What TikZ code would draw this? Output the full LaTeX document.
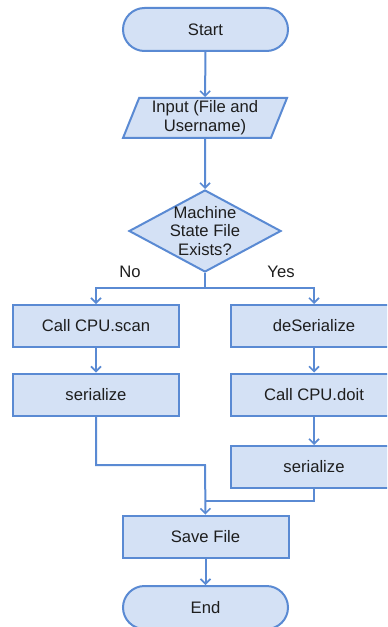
\documentclass[tikz,border=0pt]{standalone}
\usepackage{fontspec}
\setmainfont{Liberation Sans}
\usetikzlibrary{shapes.geometric,arrows.meta}
\definecolor{boxfill}{HTML}{D4E1F5}
\definecolor{boxline}{HTML}{5A8AD3}
\definecolor{ink}{HTML}{1E1E1E}
\begin{document}
\begin{tikzpicture}[x=1bp,y=-1bp,
    font=\fontsize{16.7}{19}\selectfont,
    every node/.style={text=ink},
    term/.style={rectangle,rounded corners=21.5bp,draw=boxline,fill=boxfill,line width=2bp,minimum width=165bp,minimum height=43bp},
    proc/.style={rectangle,draw=boxline,fill=boxfill,line width=2bp,minimum width=166bp,minimum height=42bp},
    io/.style={trapezium,trapezium left angle=70,trapezium right angle=110,trapezium stretches=true,draw=boxline,fill=boxfill,line width=2bp,minimum width=164bp,minimum height=40bp,align=center,inner sep=1bp},
    decide/.style={diamond,draw=boxline,fill=boxfill,line width=2bp,minimum width=152bp,minimum height=82bp,inner sep=0pt},
    link/.style={draw=boxline,line width=2bp,-{Straight Barb[length=5bp,width=10bp,line width=1.6bp]}},
    wire/.style={draw=boxline,line width=2bp}]
\clip (0,0) rectangle (387,627);
\node[term] (start) at (205.5,29.5) {Start};
\node[io] (input) at (205,118) {Input (File and\\Username)};
\node[decide,label={[align=center,font=\fontsize{16.7}{18.5}\selectfont]center:Machine\\State File\\Exists?}] (check) at (205,231) {};
\node (no) at (130,272) {No};
\node (yes) at (281,272) {Yes};
\node[proc] (scan) at (96,326) {Call CPU.scan};
\node[proc] (serleft) at (96,394.5) {serialize};
\node[proc] (deser) at (314,326) {deSerialize};
\node[proc] (doit) at (314,394.5) {Call CPU.doit};
\node[proc] (serright) at (314,467) {serialize};
\node[proc] (save) at (205.5,536.5) {Save File};
\node[term] (end) at (205.5,607.5) {End};
\coordinate (split) at (205,288);
\coordinate (merge) at (205,465);
\coordinate (join) at (205,501);
\draw[link] (start) -- (input);
\draw[link] (input) -- (check);
\draw[wire] (check.south) -- (split);
\draw[link] (split) -| (scan.north);
\draw[link] (split) -| (deser.north);
\draw[link] (scan) -- (serleft);
\draw[link] (deser) -- (doit);
\draw[link] (doit) -- (serright);
\draw[link] (serleft.south) |- (merge) -- (save.north);
\draw[wire] (serright.south) |- (join);
\draw[link] (save) -- (end);
\end{tikzpicture}
\end{document}
